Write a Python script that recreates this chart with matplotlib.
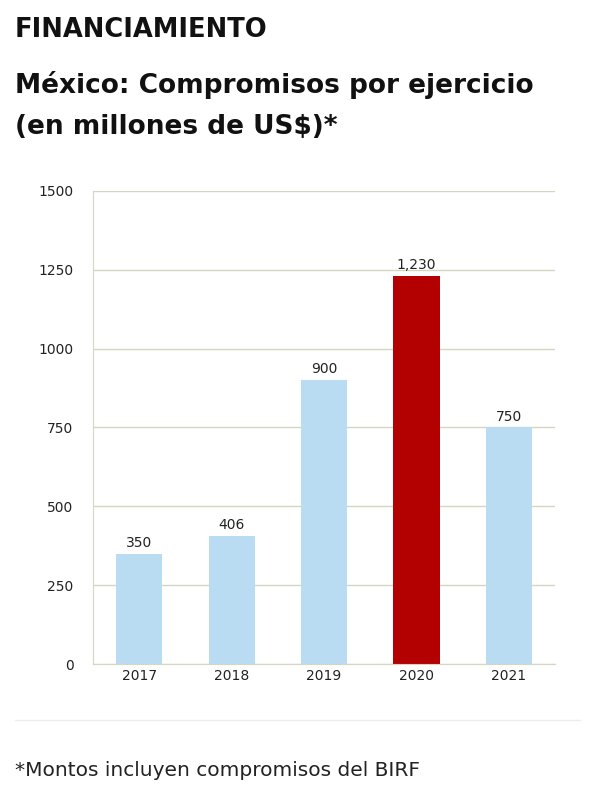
import matplotlib
matplotlib.use("Agg")
import matplotlib.pyplot as plt
from matplotlib.lines import Line2D

years = ["2017", "2018", "2019", "2020", "2021"]
values = [350, 406, 900, 1230, 750]
labels = ["350", "406", "900", "1,230", "750"]
colors = ["#b9dcf3", "#b9dcf3", "#b9dcf3", "#b30000", "#b9dcf3"]
yticks = [0, 250, 500, 750, 1000, 1250, 1500]

fig = plt.figure(figsize=(5.9, 8), dpi=100)
fig.text(15/590, 1-30/800, "FINANCIAMIENTO", fontsize=18.5, fontweight="bold", va="center", ha="left", color="#111111")
fig.text(15/590, 1-85/800, "México: Compromisos por ejercicio", fontsize=19, fontweight="bold", va="center", ha="left", color="#111111")
fig.text(15/590, 1-127/800, "(en millones de US$)*", fontsize=19, fontweight="bold", va="center", ha="left", color="#111111")

ax = fig.add_axes([93/590, 1-664/800, 462/590, (664-191)/800])
x = range(len(years))
ax.bar(x, values, width=0.5, color=colors, zorder=2)
for i, (v, l) in enumerate(zip(values, labels)):
    ax.text(i, v + 12, l, ha="center", va="bottom", fontsize=10, color="#222222")
ax.set_xlim(-0.5, 4.5)
ax.set_ylim(0, 1500)
ax.set_yticks(yticks)
ax.set_xticks(list(x))
ax.set_xticklabels(years)
ax.tick_params(length=0, labelsize=10, colors="#222222")
ax.tick_params(axis="y", pad=14)
ax.yaxis.grid(True, color="#d6d6c0", linewidth=1, zorder=0)
for s in ["top", "right"]:
    ax.spines[s].set_visible(False)
ax.spines["left"].set_color("#d6d6c0")
ax.spines["bottom"].set_color("#d6d6c0")

fig.add_artist(Line2D([15/590, 580/590], [1-720/800]*2, color="#eeeeee", linewidth=1))
fig.text(15/590, 1-770/800, "*Montos incluyen compromisos del BIRF", fontsize=14.5, va="center", ha="left", color="#222222")
fig.savefig("out.png", dpi=100)
